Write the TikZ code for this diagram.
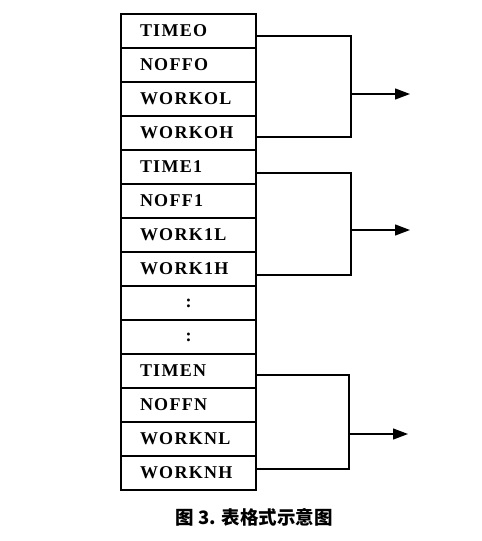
\documentclass[tikz,border=0pt]{standalone}
\usepackage{fontspec}
\setmainfont{Liberation Serif}
\newfontfamily\cjk{Noto Sans CJK SC}
\usetikzlibrary{arrows.meta,positioning}
\newcommand\cell[1]{\makebox[97pt][l]{#1}}
\newcommand\gapcell{\makebox[97pt][c]{:}}

\begin{document}
\begin{tikzpicture}[>=Triangle,x=1pt,y=1pt,
  field/.style={draw,line width=1.3pt,outer sep=0pt,inner sep=0pt,
    minimum width=135pt,minimum height=34pt,
    font=\fontsize{18}{18}\selectfont\bfseries\addfontfeatures{LetterSpace=7}},
  link/.style={line width=1.3pt},
  outarrow/.style={line width=1.3pt,-{Triangle[length=15pt,width=11pt]}}]
  \useasboundingbox (0,0) rectangle (482,-541);

  % group 0
  \node[field,anchor=north west] (t0) at (121,-14) {\cell{TIMEO}};
  \node[field,below=0pt of t0] (n0) {\cell{NOFFO}};
  \node[field,below=0pt of n0] (l0) {\cell{WORKOL}};
  \node[field,below=0pt of l0] (h0) {\cell{WORKOH}};
  % group 1
  \node[field,below=0pt of h0] (t1) {\cell{TIME1}};
  \node[field,below=0pt of t1] (n1) {\cell{NOFF1}};
  \node[field,below=0pt of n1] (l1) {\cell{WORK1L}};
  \node[field,below=0pt of l1] (h1) {\cell{WORK1H}};
  % gap
  \node[field,below=0pt of h1] (g1) {\gapcell};
  \node[field,below=0pt of g1] (g2) {\gapcell};
  % group N
  \node[field,below=0pt of g2] (tn) {\cell{TIMEN}};
  \node[field,below=0pt of tn] (nn) {\cell{NOFFN}};
  \node[field,below=0pt of nn] (ln) {\cell{WORKNL}};
  \node[field,below=0pt of ln] (hn) {\cell{WORKNH}};

  % brackets and outputs
  \draw[link] ([yshift=-5pt]t0.east) -- ++(95,0) coordinate (v0)
    |- ([yshift=-4pt]h0.east);
  \draw[link] ([yshift=-6pt]t1.east) -- ++(95,0) coordinate (v1)
    |- ([yshift=-6pt]h1.east);
  \draw[link] ([yshift=-4pt]tn.east) -- ++(93,0) coordinate (vn)
    |- ([yshift=4pt]hn.east);
  \coordinate (o0) at ([yshift=5pt,xshift=154pt]l0.east);
  \coordinate (o1) at ([yshift=5pt,xshift=154pt]l1.east);
  \coordinate (on) at ([yshift=5pt,xshift=152pt]ln.east);
  \draw[outarrow] (v0 |- o0) -- (o0);
  \draw[outarrow] (v1 |- o1) -- (o1);
  \draw[outarrow] (vn |- on) -- (on);

  \node[font=\cjk\bfseries\fontsize{18.5}{18.5}\selectfont] (cap) at (254,-517)
    {图 3. 表格式示意图};
\end{tikzpicture}
\end{document}
